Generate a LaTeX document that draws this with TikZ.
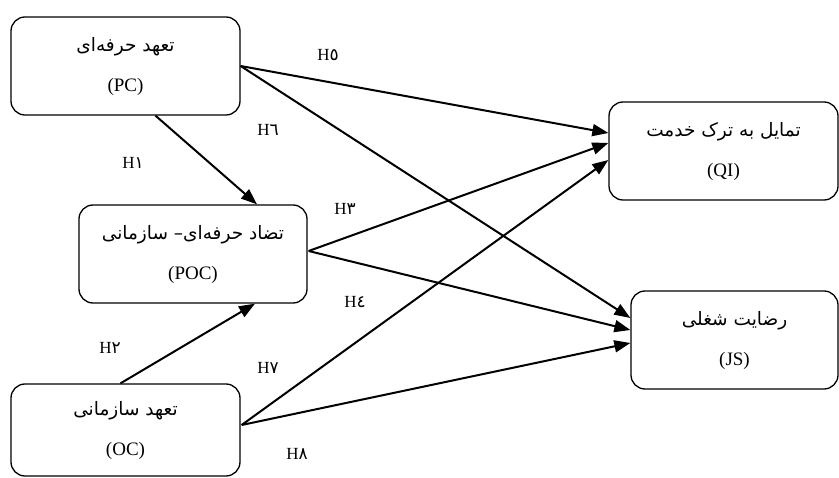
\documentclass[tikz,border=0pt]{standalone}
\usepackage{fontspec}
\setmainfont{Liberation Serif}
\newfontfamily\fa[Script=Arabic]{DejaVu Sans}
\TeXXeTstate=1
\usetikzlibrary{arrows.meta,calc}
\newcommand{\fatext}[1]{{\fa\fontsize{18.5}{40}\selectfont\beginR #1\endR}}
\begin{document}
\begin{tikzpicture}[x=1pt,y=-1pt,
  box/.style={draw, line width=1.3pt, rounded corners=14pt, inner sep=0pt, align=center,
    font=\fontsize{19}{40}\selectfont},
  arr/.style={line width=2pt, -{Triangle[length=16pt,width=12pt]}},
  lab/.style={font=\fontsize{17}{20}\selectfont, inner sep=0pt}]
\useasboundingbox (0,0) rectangle (839,478);
\node[box, minimum width=229pt, minimum height=98pt] (pc) at (125.5,66)
  {\fatext{تعهد حرفه‌ای}\\(PC)};
\node[box, minimum width=228pt, minimum height=98pt] (poc) at (193,254)
  {\fatext{تضاد حرفه‌ای– سازمانی}\\(POC)};
\node[box, minimum width=229pt, minimum height=92pt] (oc) at (125.5,430)
  {\fatext{تعهد سازمانی}\\(OC)};
\node[box, minimum width=229pt, minimum height=98pt] (qi) at (723.5,151)
  {\fatext{تمایل به ترک خدمت}\\(QI)};
\node[box, minimum width=207pt, minimum height=98pt] (js) at (734.5,340)
  {\fatext{رضایت شغلی}\\(JS)};

\draw[arr] ($(pc.south)+(30,0)$) -- ($(poc.north)+(64,0)$);
\draw[arr] (pc.east) -- ($(qi.west)+(0,-18)$);
\draw[arr] (pc.east) -- ($(js.west)+(0,-22)$);
\draw[arr] ($(poc.east)+(1,-3)$) -- ($(qi.west)+(0,-8)$);
\draw[arr] ($(poc.east)+(1,-3)$) -- ($(js.west)+(0,-10)$);
\draw[arr] ($(oc.north)+(-5,0)$) -- ($(poc.south)+(62,0)$);
\draw[arr] ($(oc.east)+(1,-5)$) -- ($(qi.west)+(0,9)$);
\draw[arr] ($(oc.east)+(1,-5)$) -- ($(js.west)+(0,3)$);

\node[lab] (h5) at (328,55) {H{\fa ٥}};
\node[lab] (h6) at (268,130) {H{\fa ٦}};
\node[lab] (h1) at (133,163) {H{\fa ١}};
\node[lab] (h3) at (345,209) {H{\fa ٣}};
\node[lab] (h4) at (355,302) {H{\fa ٤}};
\node[lab] (h2) at (110,348) {H{\fa ٢}};
\node[lab] (h7) at (268,368) {H{\fa ٧}};
\node[lab] (h8) at (297,454) {H{\fa ٨}};
\end{tikzpicture}
\end{document}
